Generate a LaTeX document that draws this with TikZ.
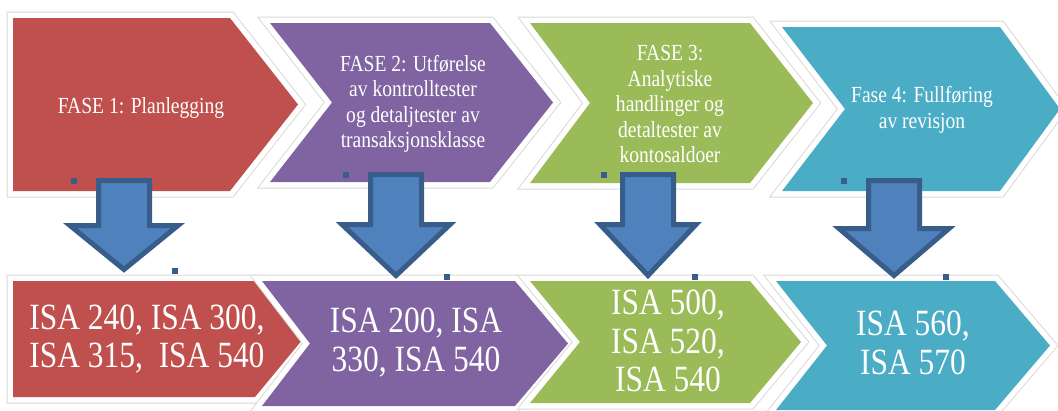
\documentclass[tikz,border=0pt]{standalone}
\usepackage{fontspec}
\setmainfont{Liberation Serif}[FakeStretch=0.85]
\usepackage{tikz}

\definecolor{faseRed}{HTML}{C0504D}
\definecolor{fasePurple}{HTML}{8064A2}
\definecolor{faseGreen}{HTML}{9BBB59}
\definecolor{faseTeal}{HTML}{4BACC6}
\definecolor{arrowFill}{HTML}{4F81BD}
\definecolor{arrowLine}{HTML}{385D8A}

\tikzset{
  chevron/.style={line join=miter,
    preaction={draw=gray!30, line width=13pt},
    preaction={draw=white, line width=11pt}},
  fasetext/.style={text=white, align=center, font=\fontsize{23}{25.5}\selectfont},
  isatext/.style={text=white, align=center, font=\fontsize{37}{38.5}\selectfont},
  downarrow/.style={fill=arrowFill, draw=arrowLine, line width=5pt, line join=miter},
  handle/.style={fill=arrowLine}
}

\begin{document}
\begin{tikzpicture}[x=1pt, y=-1pt]
  \useasboundingbox (0,0) rectangle (1058,410);

  % Top row: the four phases
  \path[chevron, fill=faseRed] (13,18) -- (230,18) -- (298,104.5) -- (230,191) -- (13,191) -- cycle;
  \path[chevron, fill=fasePurple] (270,23) -- (490,23) -- (553,102.5) -- (490,182) -- (270,182) -- (332,102.5) -- cycle;
  \path[chevron, fill=faseGreen] (530,23) -- (750,23) -- (813,103) -- (750,183) -- (530,183) -- (590,103) -- cycle;
  \path[chevron, fill=faseTeal] (782,27) -- (1000,27) -- (1060,109) -- (1000,191) -- (782,191) -- (845,109) -- cycle;

  \node[fasetext] (fase1) at (141,107.5) {FASE 1: Planlegging};
  \node[fasetext] (fase2) at (413,104) {FASE 2: Utførelse\\av kontrolltester\\og detaljtester av\\transaksjonsklasse};
  \node[fasetext] (fase3) at (670,104) {FASE 3:\\Analytiske\\handlinger og\\detaltester av\\kontosaldoer};
  \node[fasetext] (fase4) at (922,110) {Fase 4: Fullføring\\av revisjon};

  % Bottom row: standards for each phase
  \path[chevron, fill=faseRed] (13,281) -- (255,281) -- (303,339) -- (255,397) -- (13,397) -- cycle;
  \path[chevron, fill=fasePurple] (262,281) -- (515,281) -- (568,343.5) -- (515,406) -- (262,406) -- (310,343.5) -- cycle;
  \path[chevron, fill=faseGreen] (530,281) -- (750,281) -- (801,342) -- (750,403) -- (530,403) -- (580,342) -- cycle;
  \path[chevron, fill=faseTeal] (776,281) -- (995,281) -- (1050,345.5) -- (995,410) -- (776,410) -- (827,345.5) -- cycle;

  \node[isatext] (isa1) at (147,339) {ISA 240, ISA 300,\\ISA 315,\ \ ISA 540};
  \node[isatext] (isa2) at (416,342.5) {ISA 200, ISA\\330, ISA 540};
  \node[isatext] (isa3) at (668,341) {ISA 500,\\ISA 520,\\ISA 540};
  \node[isatext] (isa4) at (913,343) {ISA 560,\\ISA 570};

  % Block arrows down
  \draw[downarrow] (98.5,180.5) -- (149.5,180.5) -- (149.5,225.5) -- (178,225.5) -- (124,269.5) -- (70,225.5) -- (98.5,225.5) -- cycle;
  \draw[downarrow] (370.5,174.5) -- (421.5,174.5) -- (421.5,224.5) -- (450,224.5) -- (396,275.5) -- (342,224.5) -- (370.5,224.5) -- cycle;
  \draw[downarrow] (622.5,174.5) -- (673.5,174.5) -- (673.5,224.5) -- (696,224.5) -- (648,275.5) -- (600,224.5) -- (622.5,224.5) -- cycle;
  \draw[downarrow] (868.5,180.5) -- (919.5,180.5) -- (919.5,228.5) -- (949,228.5) -- (894,275.5) -- (839,228.5) -- (868.5,228.5) -- cycle;

  % small handles
  \fill[handle] (71,178) rectangle ++(6,6);
  \fill[handle] (172,268) rectangle ++(6,6);
  \fill[handle] (343,172) rectangle ++(6,6);
  \fill[handle] (444,274) rectangle ++(6,6);
  \fill[handle] (601,172) rectangle ++(6,6);
  \fill[handle] (692,274) rectangle ++(6,6);
  \fill[handle] (841,178) rectangle ++(6,6);
  \fill[handle] (943,274) rectangle ++(6,6);
\end{tikzpicture}
\end{document}
